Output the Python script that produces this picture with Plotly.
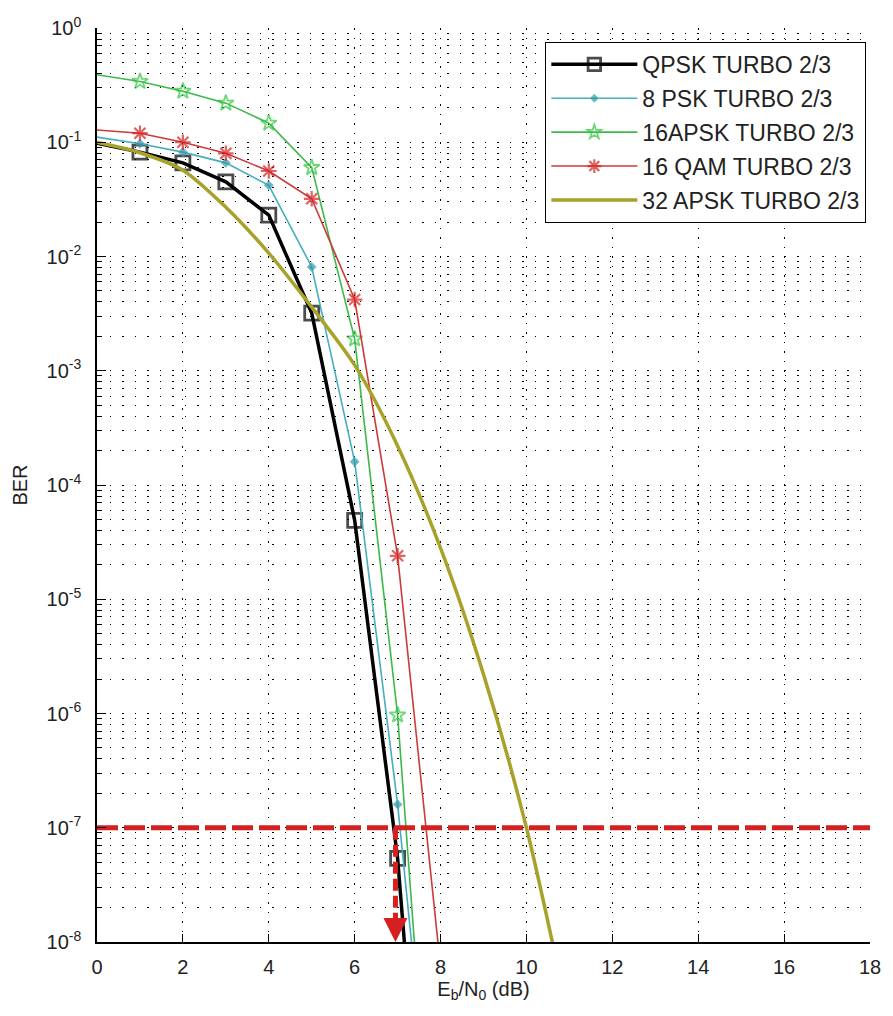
import plotly.graph_objects as go

# Eb/N0 sample points (dB)
ebn0 = [0, 1, 2, 3, 4, 5, 6, 7, 8]
ebn0_32apsk = [0, 1, 2, 3, 4, 5, 6, 7, 8, 9, 10, 11]

# Simulated BER curves, turbo code rate 2/3
ber_qpsk = [0.098, 0.082, 0.066, 0.045, 0.023, 3.2e-3, 4.9e-5, 5.4e-8, 1.2e-12]
ber_8psk = [0.111, 0.097, 0.082, 0.066, 0.042, 8.1e-3, 1.6e-4, 1.6e-7, 3e-11]
ber_16apsk = [0.39, 0.34, 0.28, 0.22, 0.147, 0.06, 1.9e-3, 9.7e-7, 8e-12]
ber_16qam = [0.128, 0.12, 0.10, 0.080, 0.056, 0.032, 4.2e-3, 2.4e-5, 6e-9]
ber_32apsk = [0.1, 0.081, 0.057, 0.027, 0.0107, 3.6e-3, 1.12e-3, 2.2e-4,
              2.8e-5, 2.2e-6, 1e-7, 2e-9]

# Target BER and the Eb/N0 reached by QPSK at that level
target_ber = 1e-7
target_ebn0 = 6.95

x_ticks = [0, 2, 4, 6, 8, 10, 12, 14, 16, 18]
y_exponents = [0, -1, -2, -3, -4, -5, -6, -7, -8]

FONT = "Liberation Sans, Arial, sans-serif"

fig = go.Figure()


def marker_sizes(n, size):
    # no marker on the x=0 sample (it sits on the axis)
    return [0] + [size] * (n - 1)


fig.add_trace(go.Scatter(
    x=ebn0, y=ber_qpsk, name="QPSK TURBO 2/3", legendgroup="a",
    mode="lines+markers",
    line=dict(color="black", width=3.5),
    marker=dict(symbol="square-open", size=marker_sizes(len(ebn0), 14),
                color="black", line=dict(width=2.8, color="black")),
))
fig.add_trace(go.Scatter(
    x=ebn0, y=ber_8psk, name="8 PSK TURBO 2/3", legendgroup="b",
    mode="lines+markers",
    line=dict(color="#45aebf", width=1.6),
    marker=dict(symbol="diamond", size=marker_sizes(len(ebn0), 7),
                color="#2f98a8"),
))
fig.add_trace(go.Scatter(
    x=ebn0, y=ber_16apsk, name="16APSK TURBO 2/3", legendgroup="c",
    mode="lines+markers",
    line=dict(color="#3cb94a", width=1.6),
    marker=dict(symbol="star-open", size=marker_sizes(len(ebn0), 12),
                color="#2fc43c", line=dict(width=1.8, color="#2fc43c")),
))
fig.add_trace(go.Scatter(
    x=ebn0, y=ber_16qam, name="16 QAM TURBO 2/3", legendgroup="d",
    mode="lines+markers",
    line=dict(color="#cc3a3a", width=1.6),
    marker=dict(symbol="asterisk-open", size=marker_sizes(len(ebn0), 13),
                color="#d42020", line=dict(width=2.2, color="#d42020")),
))
fig.add_trace(go.Scatter(
    x=ebn0_32apsk, y=ber_32apsk, name="32 APSK TURBO 2/3", legendgroup="e",
    mode="lines",
    line=dict(color="#a8a22c", width=3.5, shape="spline", smoothing=0.8),
))

# Target BER reference line
fig.add_trace(go.Scatter(
    x=[0, 18], y=[target_ber, target_ber], mode="lines", showlegend=False,
    line=dict(color="#d42020", width=5, dash="21px,6px"), hoverinfo="skip",
))
# Drop line from the target level down to the Eb/N0 axis
fig.add_trace(go.Scatter(
    x=[target_ebn0, target_ebn0], y=[target_ber, 1.6e-8], mode="lines", showlegend=False,
    line=dict(color="#d42020", width=5, dash="12px,5px"), hoverinfo="skip",
))
fig.add_annotation(
    x=target_ebn0, y=-8, ax=target_ebn0, ay=-7.78, xref="x", yref="y",
    axref="x", ayref="y", text="", showarrow=True,
    arrowhead=2, arrowsize=1.2, arrowwidth=4, arrowcolor="#d42020",
)

fig.update_layout(
    width=893, height=1016,
    margin=dict(l=97, r=14, t=28, b=74),
    paper_bgcolor="white", plot_bgcolor="white",
    font=dict(family=FONT, size=20, color="#222"),
    legend=dict(
        x=0.995, y=0.985, xanchor="right", yanchor="top",
        bgcolor="white", bordercolor="black", borderwidth=1.2,
        font=dict(family=FONT, size=23, color="#222"),
        itemwidth=86, tracegroupgap=1,
    ),
    showlegend=True,
)

fig.update_xaxes(
    range=[0, 18], tickvals=x_ticks, ticktext=[str(v) for v in x_ticks],
    showline=True, linecolor="black", linewidth=1.5, mirror=False,
    ticks="inside", ticklen=8, tickcolor="black", tickwidth=1.2,
    showgrid=True, gridcolor="black", gridwidth=1.3, griddash="1.5px,8px",
    zeroline=False, ticklabelstandoff=6,
    title=dict(text="E<sub>b</sub>/N<sub>0</sub> (dB)", font=dict(size=20), standoff=4),
)
fig.update_yaxes(
    type="log", range=[-8, 0],
    tickvals=[10.0 ** e for e in y_exponents],
    ticktext=["10<sup>%d</sup>" % e for e in y_exponents],
    showline=True, linecolor="black", linewidth=1.5, mirror=False,
    ticks="inside", ticklen=9, tickcolor="black", tickwidth=1.2,
    showgrid=True, gridcolor="black", gridwidth=1.3, griddash="1.5px,11px",
    minor=dict(ticks="inside", ticklen=5, tickcolor="black", dtick="D1",
               showgrid=True, gridcolor="black", gridwidth=1.3, griddash="1.5px,11px"),
    zeroline=False, ticklabelstandoff=10,
    title=dict(text="BER", font=dict(size=20), standoff=14),
)

fig.write_html("out.html")
